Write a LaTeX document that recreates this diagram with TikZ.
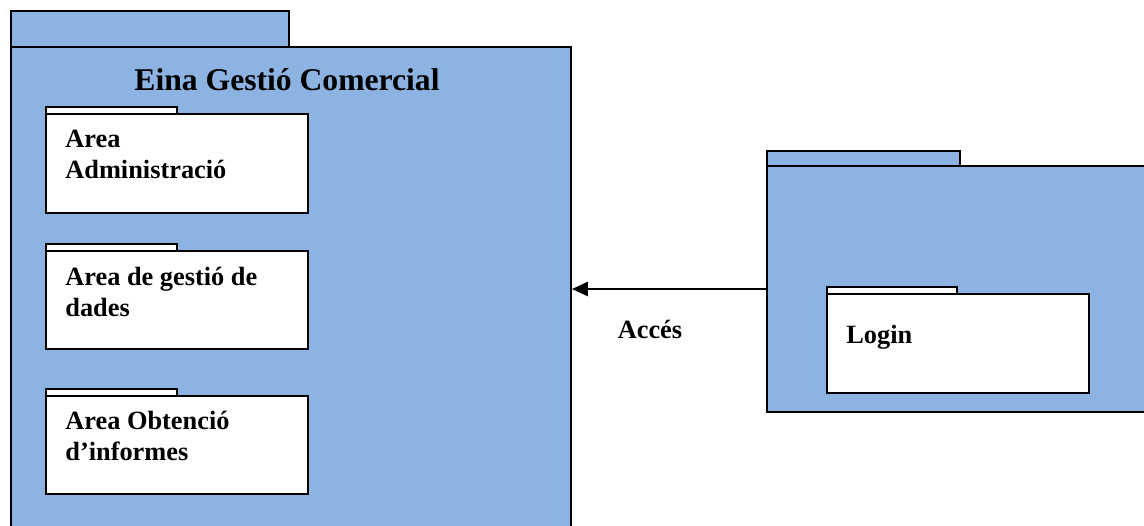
\documentclass[tikz,border=0pt]{standalone}
\usepackage{fontspec}
\setmainfont{Liberation Serif}
\usetikzlibrary{arrows.meta,positioning}
\definecolor{pkgblue}{HTML}{8DB3E2}

\begin{document}
\begin{tikzpicture}[x=0.02cm, y=-0.02cm,
  pkg/.style={shape=rectangle, draw=black, fill=pkgblue, line width=1.2pt, inner sep=0pt, anchor=north west},
  sub/.style={shape=rectangle, draw=black, fill=white, line width=1.2pt, inner sep=0pt, anchor=north west},
  lbl/.style={font=\bfseries\fontsize{15}{17.6}\selectfont, align=left, inner sep=0pt},
  ]
\clip (0,0) rectangle (1144,526);
% Eina Gestio Comercial package
\node[pkg, minimum width=5.56cm, minimum height=0.72cm] (maintab) at (10,10) {};
\node[pkg, minimum width=11.2cm, minimum height=9.98cm] (main) at (10,46) {};
\node[font=\bfseries\fontsize{18}{22}\selectfont, anchor=base, inner sep=0pt] (title) at (287,91) {Eina Gestió Comercial};
% inner packages
\node[sub, minimum width=2.62cm, minimum height=0.14cm] (admintab) at (45,106) {};
\node[sub, minimum width=5.24cm, minimum height=1.98cm] (admin) at (45,113) {};
\node[lbl, anchor=north west] (admintxt) at (65,130) {Area\\Administració};
\node[sub, minimum width=2.62cm, minimum height=0.14cm] (datatab) at (45,243) {};
\node[sub, minimum width=5.24cm, minimum height=1.96cm] (data) at (45,250) {};
\node[lbl, anchor=north west] (datatxt) at (65,267) {Area de gestió de\\dades};
\node[sub, minimum width=2.62cm, minimum height=0.14cm] (reptab) at (45,388) {};
\node[sub, minimum width=5.24cm, minimum height=1.96cm] (rep) at (45,395) {};
\node[lbl, anchor=north west] (reptxt) at (65,411) {Area Obtenció\\d’informes};
% Login package
\node[pkg, minimum width=3.86cm, minimum height=0.3cm] (logtab) at (766,150) {};
\node[pkg, minimum width=7.8cm, minimum height=4.92cm] (log) at (766,165) {};
\node[sub, minimum width=2.6cm, minimum height=0.14cm] (logintab) at (826,286) {};
\node[sub, minimum width=5.24cm, minimum height=1.98cm] (login) at (826,293) {};
\node[lbl, anchor=base west] (logintxt) at (846,344) {Login};
% dependency
\draw[line width=1.2pt, -{Triangle[length=9pt, width=8pt]}] (log.west) -- (log.west -| main.east);
\node[lbl, anchor=base] (acces) at (650,339) {Accés};
\end{tikzpicture}
\end{document}
